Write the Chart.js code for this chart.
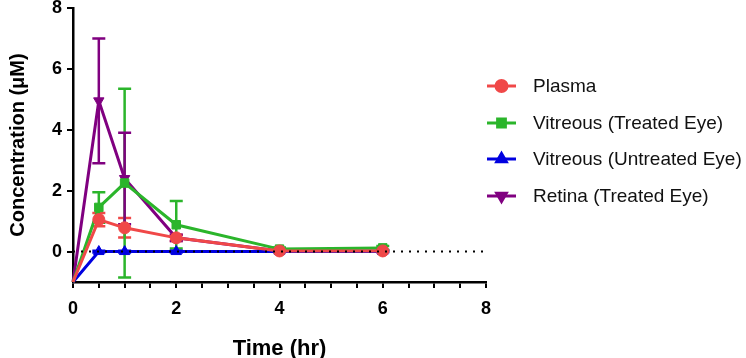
<!DOCTYPE html>
<html>
<head>
<meta charset="utf-8">
<script src="https://cdn.jsdelivr.net/npm/chart.js@4"></script>
<style>
  html, body { margin: 0; padding: 0; background: #fff; }
  #wrap { width: 746px; height: 358px; }
</style>
</head>
<body>
<div id="wrap"><canvas id="pkChart" width="746" height="358"></canvas></div>
<script>
// Time points (hr)
const times = [0, 0.5, 1, 2, 4, 6];

// Mean concentrations (uM) per series
const plasma = [-1, 1.05, 0.78, 0.45, 0.02, 0.02];
const vitreousTreated = [-1, 1.45, 2.25, 0.88, 0.08, 0.12];
const vitreousUntreated = [-1, 0.0, 0.0, 0.0, 0.0, 0.0];
const retina = [-1, 4.95, 2.4, 0.45, 0.02, 0.02];

// Error bar half-widths (SD)
const plasmaSD = [0, 0.22, 0.32, 0.1, 0.02, 0.02];
const vitreousTreatedSD = [0, 0.5, 3.1, 0.78, 0.05, 0.06];
const vitreousUntreatedSD = [0, 0.03, 0.03, 0.03, 0.02, 0.02];
const retinaSD = [0, 2.05, 1.5, 0.1, 0.02, 0.02];

const xTicks = [0, 2, 4, 6, 8];
const yTicks = [0, 2, 4, 6, 8];

const seriesNames = ['Plasma', 'Vitreous (Treated Eye)', 'Vitreous (Untreated Eye)', 'Retina (Treated Eye)'];
const seriesColors = ['#f04848', '#2bb52b', '#0000e0', '#800080'];
const seriesMarkers = ['circle', 'rect', 'triangle', 'triangle'];
const seriesRotation = [0, 0, 0, 180];
const seriesValues = [plasma, vitreousTreated, vitreousUntreated, retina];
const seriesSD = [plasmaSD, vitreousTreatedSD, vitreousUntreatedSD, retinaSD];

const FONT = '"Liberation Sans", Arial, sans-serif';

function toPoints(vals) {
    return times.map((t, i) => ({ x: t, y: vals[i] }));
}

const datasets = seriesNames.map((name, i) => ({
    label: name,
    data: toPoints(seriesValues[i]),
    sd: seriesSD[i],
    borderColor: seriesColors[i],
    backgroundColor: seriesColors[i],
    borderWidth: 3,
    pointStyle: seriesMarkers[i],
    rotation: seriesRotation[i],
    pointRadius: times.map(t => t === 0 ? 0 : 6),
    pointBorderWidth: 1,
    tension: 0,
    clip: false
}));

// dotted baseline at y = 0
datasets.unshift({
    label: 'baseline',
    data: [{ x: 0, y: 0 }, { x: 8, y: 0 }],
    borderColor: '#000',
    borderWidth: 2,
    borderDash: [2, 6],
    pointRadius: 0,
    isBaseline: true
});

// Error bars drawn from the sd arrays via the scales
const errorBars = {
    id: 'errorBars',
    beforeDatasetsDraw(chart) {
        const ctx = chart.ctx;
        const xs = chart.scales.x, ys = chart.scales.y;
        ctx.save();
        chart.data.datasets.forEach(ds => {
            if (!ds.sd) return;
            ds.data.forEach((p, i) => {
                const sd = ds.sd[i];
                if (!sd || p.x === 0) return;
                const px = xs.getPixelForValue(p.x);
                const top = ys.getPixelForValue(p.y + sd);
                const bot = ys.getPixelForValue(p.y - sd);
                ctx.strokeStyle = ds.borderColor;
                ctx.lineWidth = 2.5;
                ctx.beginPath();
                ctx.moveTo(px, top); ctx.lineTo(px, bot);
                ctx.moveTo(px - 6.5, top); ctx.lineTo(px + 6.5, top);
                ctx.moveTo(px - 6.5, bot); ctx.lineTo(px + 6.5, bot);
                ctx.stroke();
            });
        });
        ctx.restore();
    }
};

// Legend on the right with line + marker samples
const sideLegend = {
    id: 'sideLegend',
    afterDraw(chart) {
        const ctx = chart.ctx;
        const x0 = 487, tx = 533;
        const rowY = [86, 123, 159, 196];
        ctx.save();
        chart.data.datasets.forEach(ds => {
            if (ds.isBaseline) return;
            const k = seriesNames.indexOf(ds.label);
            const y = rowY[k];
            ctx.strokeStyle = ds.borderColor;
            ctx.lineWidth = 3;
            ctx.beginPath();
            ctx.moveTo(x0, y); ctx.lineTo(x0 + 29, y);
            ctx.stroke();
            ctx.fillStyle = ds.borderColor;
            Chart.helpers.drawPoint(ctx, {
                pointStyle: ds.pointStyle, rotation: ds.rotation, radius: 5.5, borderWidth: 1
            }, x0 + 14.5, y);
            ctx.fillStyle = '#111';
            ctx.font = '19px ' + FONT;
            ctx.textBaseline = 'middle';
            ctx.fillText(ds.label, tx, y + 1);
        });
        ctx.restore();
    }
};

new Chart(document.getElementById('pkChart'), {
    type: 'line',
    data: { datasets: datasets },
    plugins: [errorBars, sideLegend],
    options: {
        responsive: false,
        animation: false,
        layout: { padding: { left: 0, right: 260, top: 8, bottom: 0 } },
        plugins: { legend: { display: false }, tooltip: { enabled: false } },
        scales: {
            x: {
                type: 'linear',
                min: 0, max: 8,
                ticks: {
                    stepSize: 0.5,
                    autoSkip: false,
                    maxRotation: 0,
                    color: '#000',
                    font: { family: FONT, size: 18, weight: 'bold' },
                    padding: 10,
                    callback: v => xTicks.includes(v) ? String(v) : ''
                },
                grid: { drawOnChartArea: false, drawTicks: true, tickLength: 6, color: '#000', lineWidth: 2 },
                border: { color: '#000', width: 2.5 },
                title: {
                    display: true, text: 'Time (hr)', color: '#000',
                    font: { family: FONT, size: 22, weight: 'bold' },
                    padding: { top: 16, bottom: -4 }
                },
                afterFit: s => { s.height = 76; s.paddingLeft = 0; s.paddingRight = 0; }
            },
            y: {
                type: 'linear',
                min: -1, max: 8,
                afterBuildTicks: s => { s.ticks = yTicks.map(v => ({ value: v })); },
                ticks: {
                    color: '#000',
                    font: { family: FONT, size: 18, weight: 'bold' },
                    padding: 5
                },
                grid: { drawOnChartArea: false, drawTicks: true, tickLength: 6, color: '#000', lineWidth: 2 },
                border: { color: '#000', width: 2.5 },
                title: {
                    display: true, text: 'Concentration (\u03bcM)', color: '#000',
                    font: { family: FONT, size: 20, weight: 'bold' },
                    padding: { top: 6, bottom: 2 }
                },
                afterFit: s => { s.width = 73; s.paddingTop = 0; s.paddingBottom = 0; }
            }
        }
    }
});
</script>
</body>
</html>
